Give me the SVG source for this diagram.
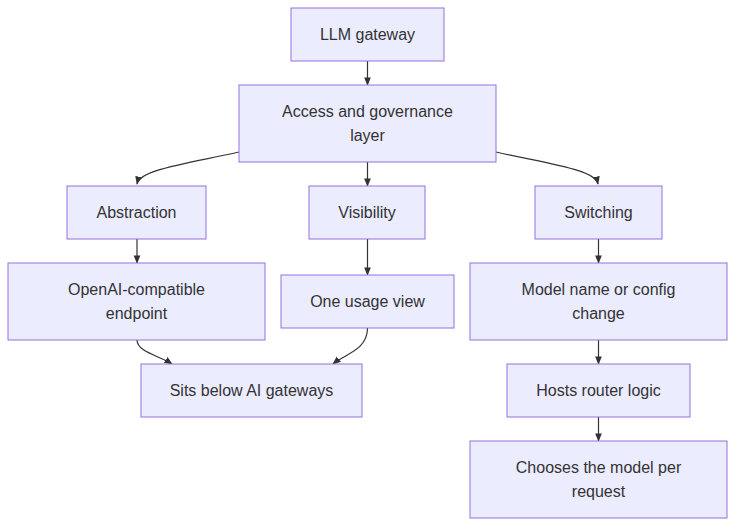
<svg xmlns="http://www.w3.org/2000/svg" width="743" height="532" viewBox="0 0 743 532">
<style>
.n rect{fill:#ECECFF;stroke:#9370DB;stroke-width:1}
.n text{font-family:"Liberation Sans",Arial,sans-serif;font-size:16px;fill:#333;text-anchor:middle}
.e path{fill:none;stroke:#333;stroke-width:1.2}
</style>
<defs><marker id="a" viewBox="0 0 10 10" refX="9" refY="5" markerWidth="7" markerHeight="7" orient="auto"><path d="M0,1 L10,5 L0,9 z" fill="#333"/></marker></defs>
<rect width="743" height="532" fill="#fff"/>
<g class="e">
<path d="M367.5,61 V85" marker-end="url(#a)"/>
<path d="M239,152 C180,165 140,170 137,184" marker-end="url(#a)"/>
<path d="M367.5,162 V186" marker-end="url(#a)"/>
<path d="M496,152 C555,165 595,170 598,184" marker-end="url(#a)"/>
<path d="M137,239 V263" marker-end="url(#a)"/>
<path d="M367.5,239 V275" marker-end="url(#a)"/>
<path d="M598.5,239 V263" marker-end="url(#a)"/>
<path d="M137,340 C137,352 160,356 172,364" marker-end="url(#a)"/>
<path d="M367.5,328 C367.5,350 345,354 333,364" marker-end="url(#a)"/>
<path d="M598.5,340 V364" marker-end="url(#a)"/>
<path d="M598.5,417 V441" marker-end="url(#a)"/>
</g>
<g class="n" id="n1"><rect x="291" y="8" width="153" height="53"/><text x="367.5" y="40">LLM gateway</text></g>
<g class="n" id="n2"><rect x="239" y="85" width="257" height="77"/><text x="367.5" y="117">Access and governance</text><text x="367.5" y="141">layer</text></g>
<g class="n" id="n3"><rect x="67" y="186" width="139" height="53"/><text x="136.5" y="218">Abstraction</text></g>
<g class="n" id="n4"><rect x="309" y="186" width="116" height="53"/><text x="367" y="218">Visibility</text></g>
<g class="n" id="n5"><rect x="535" y="186" width="127" height="53"/><text x="598.5" y="218">Switching</text></g>
<g class="n" id="n6"><rect x="8" y="263" width="257" height="77"/><text x="136.5" y="295">OpenAI-compatible</text><text x="136.5" y="319">endpoint</text></g>
<g class="n" id="n7"><rect x="281" y="275" width="173" height="53"/><text x="367.5" y="307">One usage view</text></g>
<g class="n" id="n8"><rect x="470" y="263" width="257" height="77"/><text x="598.5" y="295">Model name or config</text><text x="598.5" y="319">change</text></g>
<g class="n" id="n9"><rect x="141" y="364" width="221" height="53"/><text x="251.5" y="396">Sits below AI gateways</text></g>
<g class="n" id="n10"><rect x="507" y="364" width="183" height="53"/><text x="598.5" y="396">Hosts router logic</text></g>
<g class="n" id="n11"><rect x="470" y="441" width="257" height="77"/><text x="598.5" y="473">Chooses the model per</text><text x="598.5" y="497">request</text></g>
</svg>
